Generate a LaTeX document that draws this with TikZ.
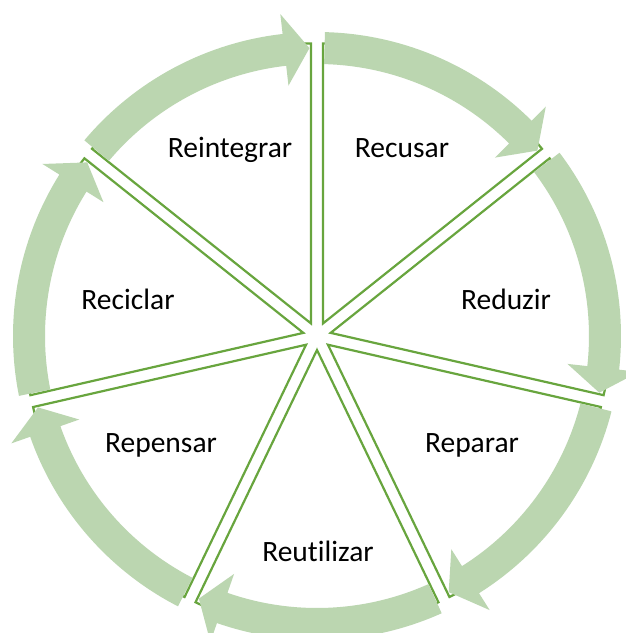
\documentclass[tikz,border=0pt]{standalone}
\usepackage{fontspec}
\setmainfont{Carlito}[Ligatures=NoCommon]
\usepackage{tikz}

\definecolor{ringgreen}{RGB}{187,214,176}
\definecolor{linegreen}{RGB}{104,165,62}

\tikzset{
    sector/.style={draw=linegreen, fill=white, line width=2.2pt},
    ringarrow/.style={fill=ringgreen, draw=none},
    lbl/.style={font=\fontsize{29.5}{35}\selectfont, anchor=base}
}

\begin{document}
\begin{tikzpicture}[x=1pt, y=1pt]
        \useasboundingbox (-317,-297) rectangle (309,336);

        % seven slices, pulled apart a little
        \foreach \i in {0,...,6} {
            \pgfmathsetmacro{\a}{90-\i*360/7}
            \pgfmathsetmacro{\b}{\a-360/7}
            \pgfmathsetmacro{\m}{(\a+\b)/2}
            \begin{scope}[shift={(\m:14)}]
                \draw[sector] (0,0) -- (\a:280) arc[start angle=\a, end angle=\b, radius=280] -- cycle;
            \end{scope}
        }

        % curved arrows round the ring
        \foreach \i in {0,...,6} {
            \pgfmathsetmacro{\a}{90-\i*360/7}
            \pgfmathsetmacro{\b}{\a-360/7}
            \pgfmathsetmacro{\ta}{\a-1.5}
            \pgfmathsetmacro{\hb}{\b+6.5}
            \pgfmathsetmacro{\tp}{\b+1.5}
            \fill[ringarrow] (\ta:304) arc[start angle=\ta, end angle=\hb, radius=304]
                -- (\hb:324) -- (\tp:288) -- (\hb:252) -- (\hb:272)
                arc[start angle=\hb, end angle=\ta, radius=272] -- cycle;
        }

        \node[lbl] (recusar) at (85,179) {Recusar};
        \node[lbl] (reduzir) at (189,27) {Reduzir};
        \node[lbl] (reparar) at (155,-116) {Reparar};
        \node[lbl] (reutilizar) at (1,-225) {Reutilizar};
        \node[lbl] (repensar) at (-156,-116) {Repensar};
        \node[lbl] (reciclar) at (-189,27) {Reciclar};
        \node[lbl] (reintegrar) at (-87,179) {Reintegrar};
    \end{tikzpicture}
\end{document}
